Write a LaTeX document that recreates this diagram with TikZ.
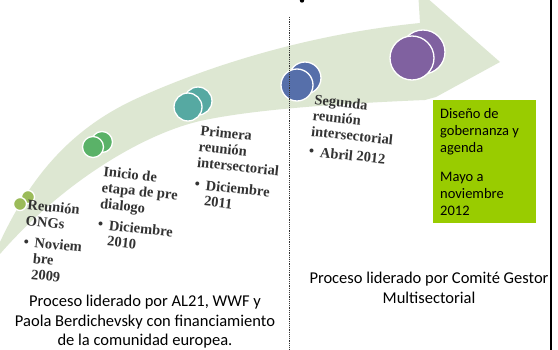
\documentclass[tikz,border=0pt]{standalone}
\usepackage{fontspec}
\setmainfont{Liberation Serif}
\newfontfamily\capfont{Carlito}
\definecolor{band}{RGB}{221,231,210}
\definecolor{clime}{RGB}{155,187,89}
\definecolor{cgreen}{RGB}{90,178,104}
\definecolor{cteal}{RGB}{86,169,162}
\definecolor{cblue}{RGB}{86,111,170}
\definecolor{cpurple}{RGB}{128,97,160}
\definecolor{boxgreen}{RGB}{153,204,0}
\newcommand{\bul}{\makebox[11pt][l]{\textbullet}}
\newcommand{\ind}{\hspace*{11pt}}
\begin{document}
\begin{tikzpicture}[x=1pt,y=-1pt,
  dot/.style={circle, fill=#1, draw=white, line width=1.3pt, inner sep=0pt},
  lbl/.style={anchor=north west, align=left, inner sep=0pt, rotate=-6,
    font=\bfseries\fontsize{14.5}{16}\selectfont, text=black!80},
  captext/.style={align=center, inner sep=0pt, font=\capfont\fontsize{16.5}{19.5}\selectfont},
  boxtext/.style={anchor=north west, align=left, inner sep=0pt,
    font=\capfont\fontsize{14.5}{17}\selectfont}]
\useasboundingbox (0,0) rectangle (558,350);
\fill[white] (0,0) rectangle (558,350);
% curved arrow band
\fill[band] (0,242) .. controls (30,178) and (70,128) .. (140,97)
  .. controls (200,70) and (300,35) .. (420,23)
  -- (418,-10) -- (500,62) -- (436,97) -- (425,100)
  .. controls (330,104) and (250,110) .. (200,121)
  .. controls (140,135) and (60,185) .. (0,254) -- cycle;
% milestones
\node[dot=clime, minimum size=13pt] (c1b) at (28,197) {};
\node[dot=clime, minimum size=13pt] (c1f) at (20,204) {};
\node[dot=cgreen, minimum size=21pt] (c2b) at (102,142) {};
\node[dot=cgreen, minimum size=21pt] (c2f) at (93,147) {};
\node[dot=cteal, minimum size=28pt] (c3b) at (198,101) {};
\node[dot=cteal, minimum size=28pt] (c3f) at (188,107) {};
\node[dot=cblue, minimum size=32pt] (c4b) at (305,78) {};
\node[dot=cblue, minimum size=32pt] (c4f) at (297,85) {};
\node[dot=cpurple, minimum size=44pt] (c5b) at (423,52) {};
\node[dot=cpurple, minimum size=44pt] (c5f) at (412,58) {};
% dotted divider
\coordinate (dtop) at (289,17);
\coordinate (dbot) at (289,350);
\draw[black!80, line width=0.8pt, dash pattern=on 1.2pt off 1pt] (dtop) -- (dbot);
% right border line
\coordinate (rtop) at (550.5,0);
\coordinate (rbot) at (550.5,350);
\draw[black, line width=2pt] (rtop) -- (rbot);
% top fragment
\fill[black] (302,0.5) circle (2.2);
% labels
\node[lbl] (t1) at (28,199) {Reunión\\ONGs\\[5pt]\bul Noviem\\\ind bre\\\ind 2009};
\node[lbl] (t2) at (104,166) {Inicio de\\etapa de pre\\dialogo\\[5pt]\bul Diciembre\\\ind 2010};
\node[lbl] (t3) at (201,125) {Primera\\reunión\\intersectorial\\[6pt]\bul Diciembre\\\ind 2011};
\node[lbl] (t4) at (315,94) {Segunda\\reunión\\intersectorial\\[4pt]\bul Abril 2012};
% green box
\node[fill=boxgreen, anchor=north west, minimum width=103pt, minimum height=123pt, inner sep=0pt] (box) at (433,100) {};
\node[boxtext] (boxt) at ([xshift=7pt,yshift=-8.5pt]box.north west) {Diseño de\\gobernanza y\\agenda\\[12pt]Mayo a\\noviembre\\2012};
% captions
\node[captext] (capl) at (145,322) {Proceso liderado por AL21, WWF y\\Paola Berdichevsky con financiamiento\\de la comunidad europea.};
\node[captext] (capr) at (429,288) {Proceso liderado por Comité Gestor\\Multisectorial};
\end{tikzpicture}
\end{document}
